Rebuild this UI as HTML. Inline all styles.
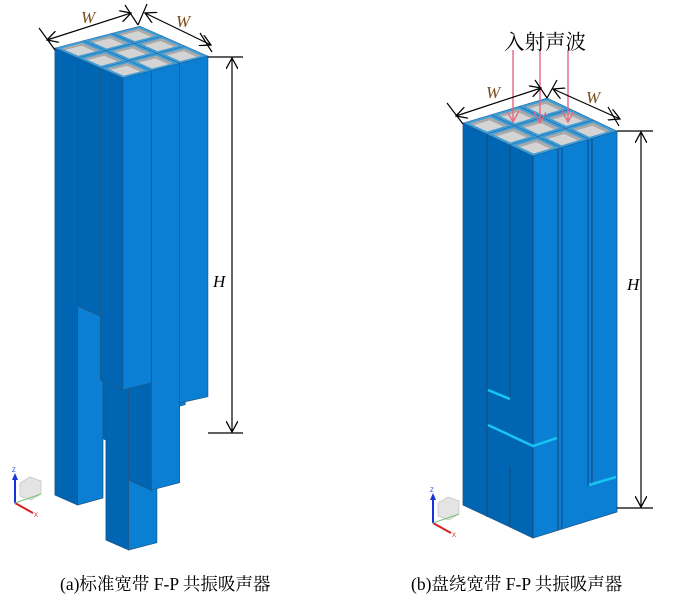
<!DOCTYPE html>
<html><head><meta charset="utf-8"><style>
html,body{margin:0;padding:0;background:#fff;}
svg{display:block}
.cap{font-family:"Liberation Serif","Noto Serif CJK SC",serif;font-size:17.5px;fill:#000}
.it{font-family:"Liberation Serif",serif;font-style:italic;font-size:17px}
</style></head><body>
<svg width="679" height="603" viewBox="0 0 679 603" xmlns="http://www.w3.org/2000/svg">
<defs>
<marker id="ah" viewBox="0 0 12 12" refX="11" refY="6" markerWidth="12" markerHeight="12" markerUnits="userSpaceOnUse" orient="auto-start-reverse">
<path d="M0,0 L11,6 L0,12" fill="none" stroke="#000" stroke-width="1.3"/></marker>
<marker id="ap" viewBox="0 0 12 12" refX="11" refY="6" markerWidth="12" markerHeight="12" markerUnits="userSpaceOnUse" orient="auto">
<path d="M0,0 L11,6 L0,12" fill="none" stroke="#e8677f" stroke-width="1.3"/></marker>
<g id="cells">
<rect x="0" y="0" width="3" height="3" fill="#3f9ed8"/>
<g fill="#a9a9a9">
<rect x="0.13" y="0.13" width="0.74" height="0.74"/><rect x="1.13" y="0.13" width="0.74" height="0.74"/><rect x="2.13" y="0.13" width="0.74" height="0.74"/>
<rect x="0.13" y="1.13" width="0.74" height="0.74"/><rect x="1.13" y="1.13" width="0.74" height="0.74"/><rect x="2.13" y="1.13" width="0.74" height="0.74"/>
<rect x="0.13" y="2.13" width="0.74" height="0.74"/><rect x="1.13" y="2.13" width="0.74" height="0.74"/><rect x="2.13" y="2.13" width="0.74" height="0.74"/>
</g>
<g fill="#d4d4d4">
<rect x="0.13" y="0.13" width="0.58" height="0.58"/><rect x="1.13" y="0.13" width="0.58" height="0.58"/><rect x="2.13" y="0.13" width="0.58" height="0.58"/>
<rect x="0.13" y="1.13" width="0.58" height="0.58"/><rect x="1.13" y="1.13" width="0.58" height="0.58"/><rect x="2.13" y="1.13" width="0.58" height="0.58"/>
<rect x="0.13" y="2.13" width="0.58" height="0.58"/><rect x="1.13" y="2.13" width="0.58" height="0.58"/><rect x="2.13" y="2.13" width="0.58" height="0.58"/>
</g>
<g fill="none" stroke="#1c5f94" stroke-width="0.03">
<rect x="0" y="0" width="3" height="3"/><path d="M1,0V3M2,0V3M0,1H3M0,2H3"/>
</g>
</g>
</defs>

<g stroke="#1d5688" stroke-width="0.7" stroke-linejoin="round">
<polygon points="134.2,43.4 111.5,33.4 111.5,390 134.2,400" fill="#0066b3"/>
<polygon points="134.2,43.4 162.5,36.1 162.5,392.7 134.2,400" fill="#0a7fd3"/>
<polygon points="105.9,50.7 83.2,40.7 83.2,430 105.9,440" fill="#0066b3"/>
<polygon points="105.9,50.7 134.2,43.4 134.2,432.7 105.9,440" fill="#0a7fd3"/>
<polygon points="156.9,53.4 134.2,43.4 134.2,402 156.9,412" fill="#0066b3"/>
<polygon points="156.9,53.4 185.2,46.1 185.2,404.7 156.9,412" fill="#0a7fd3"/>
<polygon points="77.6,58 54.9,48 54.9,495 77.6,505" fill="#0066b3"/>
<polygon points="77.6,58 103,51.4 103,498 77.6,505" fill="#0a7fd3"/>
<polygon points="128.6,60.7 105.9,50.7 105.9,540 128.6,550" fill="#0066b3"/>
<polygon points="128.6,60.7 156.9,53.4 156.9,542.7 128.6,550" fill="#0a7fd3"/>
<polygon points="179.6,63.4 156.9,53.4 156.9,393 179.6,403" fill="#0066b3"/>
<polygon points="179.6,63.4 207.9,56.1 207.9,396.7 179.6,403" fill="#0a7fd3"/>
<polygon points="100.3,68 77.6,58 77.6,306 100.3,316" fill="#0066b3"/>
<polygon points="100.3,68 128.6,60.7 128.6,308.7 100.3,316" fill="#0a7fd3"/>
<polygon points="151.3,70.7 128.6,60.7 128.6,480 151.3,490" fill="#0066b3"/>
<polygon points="151.3,70.7 179.6,63.4 179.6,482.7 151.3,490" fill="#0a7fd3"/>
<polygon points="123,78 100.3,68 100.3,380 123,390" fill="#0066b3"/>
<polygon points="123,78 151.3,70.7 151.3,383 123,390" fill="#0a7fd3"/>
</g>
<use href="#cells" transform="matrix(-22.7,-10,28.3,-7.3,123,78)"/>

<g stroke="#000" stroke-width="1.2" fill="none">
<line x1="39" y1="28" x2="55" y2="50"/>
<line x1="125" y1="5" x2="138" y2="25"/>
<line x1="147" y1="4" x2="138" y2="25"/>
<line x1="200" y1="33" x2="212" y2="52"/>
<line x1="47" y1="40" x2="131" y2="13" marker-start="url(#ah)" marker-end="url(#ah)"/>
<line x1="145" y1="13" x2="211" y2="45" marker-start="url(#ah)" marker-end="url(#ah)"/>
<line x1="208" y1="57" x2="243" y2="57"/>
<line x1="208" y1="433" x2="243" y2="433"/>
<line x1="232" y1="58" x2="232" y2="432" marker-start="url(#ah)" marker-end="url(#ah)"/>
</g>
<text class="it" x="81" y="23" fill="#7a4e1c">W</text>
<text class="it" x="176" y="27" fill="#7a4e1c">W</text>
<text class="it" x="213" y="287" fill="#000">H</text>

<g stroke="#1d5688" stroke-width="0.8" stroke-linejoin="round">
<polygon points="533,156 463,123 463,505 510,527 533,538" fill="#0066b3"/>
<polygon points="533,156 617,131 617,512 533,538" fill="#0a7fd3"/>
</g>
<g stroke="#174c7c" stroke-width="1.1" fill="none">
<line x1="487" y1="134" x2="487" y2="517"/>
<line x1="510" y1="145" x2="510" y2="399"/>
<line x1="510" y1="467" x2="510" y2="527"/>
<line x1="558" y1="149" x2="558" y2="530"/>
<line x1="562" y1="148" x2="562" y2="528"/>
<line x1="588" y1="140" x2="588" y2="486"/>
<line x1="592" y1="139" x2="592" y2="485"/>
<line x1="533" y1="156" x2="533" y2="538"/>
</g>
<g stroke="#16c4f5" stroke-width="2.5" fill="none">
<line x1="488" y1="390" x2="510" y2="399"/>
<polyline points="488,425 533,446 557,438"/>
<line x1="589" y1="485" x2="616" y2="477"/>
</g>
<use href="#cells" transform="matrix(-23.3,-11,28,-8.3,533,156)"/>

<g stroke="#e8677f" stroke-width="1.4" fill="none">
<line x1="513" y1="50" x2="513" y2="122" marker-end="url(#ap)"/>
<line x1="540" y1="50" x2="540" y2="123" marker-end="url(#ap)"/>
<line x1="568" y1="50" x2="568" y2="122" marker-end="url(#ap)"/>
</g>
<text x="504" y="49" font-family="'Liberation Serif','Noto Serif CJK SC',serif" font-size="20.5" fill="#000">入射声波</text>

<g stroke="#000" stroke-width="1.2" fill="none">
<line x1="447" y1="103" x2="463" y2="124"/>
<line x1="535" y1="80" x2="547" y2="98"/>
<line x1="557" y1="80" x2="547" y2="98"/>
<line x1="608" y1="107" x2="619" y2="126"/>
<line x1="456" y1="116" x2="541" y2="88" marker-start="url(#ah)" marker-end="url(#ah)"/>
<line x1="553" y1="89" x2="620" y2="119" marker-start="url(#ah)" marker-end="url(#ah)"/>
<line x1="617" y1="131" x2="653" y2="131"/>
<line x1="617" y1="508" x2="653" y2="508"/>
<line x1="641" y1="132" x2="641" y2="507" marker-start="url(#ah)" marker-end="url(#ah)"/>
</g>
<text class="it" x="486" y="98" fill="#7a4e1c">W</text>
<text class="it" x="586" y="103" fill="#7a4e1c">W</text>
<text class="it" x="627" y="290" fill="#000">H</text>

<g>
<polygon points="20,483 30,477 41,481 41,494 31,500 20,496" fill="#e4e4e4" stroke="#bbb" stroke-width="0.6"/>
<line x1="15" y1="503" x2="15" y2="478" stroke="#1535d6" stroke-width="2"/>
<polygon points="12,480 15,473 18,480" fill="#1535d6"/>
<line x1="15" y1="503" x2="33" y2="513" stroke="#d42020" stroke-width="2"/>
<line x1="15" y1="503" x2="41" y2="494" stroke="#78c078" stroke-width="1"/>
<text x="12" y="472" font-size="6" fill="#1535d6" font-family="Liberation Sans,sans-serif">Z</text>
<text x="34" y="517" font-size="6" fill="#d42020" font-family="Liberation Sans,sans-serif">X</text>
</g>
<g transform="translate(418,20)">
<polygon points="20,483 30,477 41,481 41,494 31,500 20,496" fill="#e4e4e4" stroke="#bbb" stroke-width="0.6"/>
<line x1="15" y1="503" x2="15" y2="478" stroke="#1535d6" stroke-width="2"/>
<polygon points="12,480 15,473 18,480" fill="#1535d6"/>
<line x1="15" y1="503" x2="33" y2="513" stroke="#d42020" stroke-width="2"/>
<line x1="15" y1="503" x2="41" y2="494" stroke="#78c078" stroke-width="1"/>
<text x="12" y="472" font-size="6" fill="#1535d6" font-family="Liberation Sans,sans-serif">Z</text>
<text x="34" y="517" font-size="6" fill="#d42020" font-family="Liberation Sans,sans-serif">X</text>
</g>

<text class="cap" x="60" y="590">(a)标准宽带 F-P 共振吸声器</text>
<text class="cap" x="411" y="590">(b)盘绕宽带 F-P 共振吸声器</text>
</svg>
</body></html>
